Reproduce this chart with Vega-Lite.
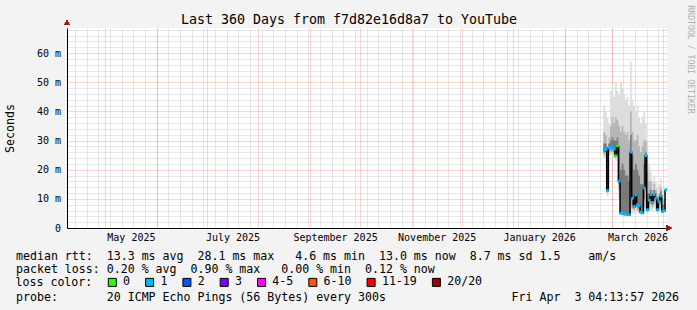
{
  "$schema": "https://vega.github.io/schema/vega-lite/v6.json",
  "width": 600,
  "height": 200,
  "autosize": {"type": "none"},
  "padding": {"left": 67, "top": 28, "right": 30, "bottom": 82},
  "background": "#f3f3f3",
  "config": {
    "view": {"fill": "#ffffff", "stroke": null},
    "axis": {"labelFont": "DejaVu Sans Mono", "titleFont": "DejaVu Sans Mono", "titleFontWeight": "normal", "labelColor": "#000000", "titleColor": "#000000"},
    "legend": {"padding": 0, "offset": 0}
  },
  "data": {
    "values": [
      {"d": "2026-02-24", "m": 26.9, "loss": "1", "lo1": 24, "lo2": 25, "lo3": 26, "hi3": 29, "hi2": 33, "hi1": 42},
      {"d": "2026-02-25", "m": 26.9, "loss": "1", "lo1": 24, "lo2": 25.5, "lo3": 26, "hi3": 29, "hi2": 32, "hi1": 40},
      {"d": "2026-02-26", "m": 12.9, "loss": "1", "lo1": 11, "lo2": 12, "lo3": 12.5, "hi3": 20, "hi2": 28, "hi1": 38},
      {"d": "2026-02-27", "m": 27.5, "loss": "1", "lo1": 25, "lo2": 26, "lo3": 27, "hi3": 29, "hi2": 31, "hi1": 36},
      {"d": "2026-02-28", "m": 27.7, "loss": "1", "lo1": 25, "lo2": 26, "lo3": 27, "hi3": 30, "hi2": 35, "hi1": 47},
      {"d": "2026-03-01", "m": 27.5, "loss": "1", "lo1": 25, "lo2": 26, "lo3": 27, "hi3": 31, "hi2": 38, "hi1": 49},
      {"d": "2026-03-02", "m": 27.0, "loss": "1", "lo1": 24, "lo2": 25, "lo3": 26, "hi3": 30, "hi2": 36, "hi1": 45},
      {"d": "2026-03-03", "m": 24.8, "loss": "0", "lo1": 23, "lo2": 24, "lo3": 24.5, "hi3": 30, "hi2": 38, "hi1": 50},
      {"d": "2026-03-04", "m": 28.1, "loss": "0", "lo1": 25, "lo2": 26, "lo3": 27, "hi3": 31, "hi2": 37, "hi1": 47},
      {"d": "2026-03-05", "m": 16.0, "loss": "1", "lo1": 10, "lo2": 13, "lo3": 15, "hi3": 28, "hi2": 35, "hi1": 46},
      {"d": "2026-03-06", "m": 5.1, "loss": "1", "lo1": 4.5, "lo2": 4.8, "lo3": 5, "hi3": 20, "hi2": 33, "hi1": 50},
      {"d": "2026-03-07", "m": 4.9, "loss": "1", "lo1": 4.3, "lo2": 4.6, "lo3": 4.8, "hi3": 22, "hi2": 35, "hi1": 48},
      {"d": "2026-03-08", "m": 4.8, "loss": "1", "lo1": 4.2, "lo2": 4.5, "lo3": 4.7, "hi3": 20, "hi2": 33, "hi1": 46},
      {"d": "2026-03-09", "m": 4.7, "loss": "1", "lo1": 4.2, "lo2": 4.5, "lo3": 4.6, "hi3": 18, "hi2": 32, "hi1": 44},
      {"d": "2026-03-10", "m": 4.6, "loss": "1", "lo1": 4.1, "lo2": 4.4, "lo3": 4.5, "hi3": 18, "hi2": 33, "hi1": 45},
      {"d": "2026-03-11", "m": 4.5, "loss": "1", "lo1": 4.0, "lo2": 4.3, "lo3": 4.4, "hi3": 16, "hi2": 30, "hi1": 42},
      {"d": "2026-03-12", "m": 26.0, "loss": "1", "lo1": 5, "lo2": 7, "lo3": 12, "hi3": 32, "hi2": 40, "hi1": 57},
      {"d": "2026-03-13", "m": 10.2, "loss": "1", "lo1": 5, "lo2": 6.5, "lo3": 8, "hi3": 25, "hi2": 33, "hi1": 44},
      {"d": "2026-03-14", "m": 7.4, "loss": "1", "lo1": 5, "lo2": 6, "lo3": 6.8, "hi3": 20, "hi2": 30, "hi1": 42},
      {"d": "2026-03-15", "m": 11.3, "loss": "1", "lo1": 5.5, "lo2": 7, "lo3": 9, "hi3": 22, "hi2": 30, "hi1": 40},
      {"d": "2026-03-16", "m": 8.0, "loss": "1", "lo1": 5, "lo2": 6, "lo3": 7, "hi3": 20, "hi2": 32, "hi1": 42},
      {"d": "2026-03-17", "m": 7.6, "loss": "1", "lo1": 5, "lo2": 6, "lo3": 6.8, "hi3": 18, "hi2": 28, "hi1": 38},
      {"d": "2026-03-18", "m": 5.5, "loss": "1", "lo1": 4.5, "lo2": 5, "lo3": 5.2, "hi3": 15, "hi2": 26, "hi1": 36},
      {"d": "2026-03-19", "m": 5.2, "loss": "1", "lo1": 4.5, "lo2": 5, "lo3": 5.1, "hi3": 15, "hi2": 28, "hi1": 38},
      {"d": "2026-03-20", "m": 13.7, "loss": "1", "lo1": 5, "lo2": 7, "lo3": 10, "hi3": 22, "hi2": 30, "hi1": 40},
      {"d": "2026-03-21", "m": 24.8, "loss": "1", "lo1": 6, "lo2": 9, "lo3": 15, "hi3": 26, "hi2": 30, "hi1": 36},
      {"d": "2026-03-22", "m": 6.3, "loss": "1", "lo1": 5, "lo2": 5.5, "lo3": 6, "hi3": 12, "hi2": 20, "hi1": 30},
      {"d": "2026-03-23", "m": 9.5, "loss": "1", "lo1": 5.5, "lo2": 7, "lo3": 8.5, "hi3": 12, "hi2": 16, "hi1": 22},
      {"d": "2026-03-24", "m": 11.4, "loss": "1", "lo1": 6, "lo2": 8, "lo3": 10, "hi3": 13, "hi2": 16, "hi1": 20},
      {"d": "2026-03-25", "m": 8.8, "loss": "1", "lo1": 6, "lo2": 7, "lo3": 8, "hi3": 11, "hi2": 13, "hi1": 16},
      {"d": "2026-03-26", "m": 11.4, "loss": "1", "lo1": 7, "lo2": 9, "lo3": 10.5, "hi3": 13, "hi2": 15, "hi1": 18},
      {"d": "2026-03-27", "m": 10.2, "loss": "1", "lo1": 6, "lo2": 8, "lo3": 9.5, "hi3": 12, "hi2": 13, "hi1": 16},
      {"d": "2026-03-28", "m": 6.3, "loss": "1", "lo1": 5, "lo2": 5.5, "lo3": 6, "hi3": 9, "hi2": 11, "hi1": 14},
      {"d": "2026-03-29", "m": 9.0, "loss": "1", "lo1": 5.5, "lo2": 7, "lo3": 8.5, "hi3": 10.5, "hi2": 12, "hi1": 15},
      {"d": "2026-03-30", "m": 11.0, "loss": "1", "lo1": 6, "lo2": 8, "lo3": 10, "hi3": 12.5, "hi2": 14, "hi1": 17},
      {"d": "2026-03-31", "m": 5.7, "loss": "1", "lo1": 5, "lo2": 5.3, "lo3": 5.5, "hi3": 8, "hi2": 10, "hi1": 13},
      {"d": "2026-04-01", "m": 6.0, "loss": "1", "lo1": 5, "lo2": 5.5, "lo3": 5.8, "hi3": 8, "hi2": 10, "hi1": 12},
      {"d": "2026-04-02", "m": 13.1, "loss": "1", "lo1": 6, "lo2": 9, "lo3": 12, "hi3": 13.8, "hi2": 14.5, "hi1": 16}
    ]
  },
  "resolve": {"axis": {"x": "independent", "y": "independent"}},
  "layer": [
    {
      "mark": {"type": "area", "interpolate": "step-after", "color": "#dddddd", "opacity": 1},
      "encoding": {
        "x": {
          "field": "d", "type": "temporal",
          "scale": {"type": "utc", "domain": [{"year": 2025, "month": 4, "date": 8, "hours": 4, "minutes": 13, "seconds": 57, "utc": true}, {"year": 2026, "month": 4, "date": 3, "hours": 4, "minutes": 13, "seconds": 57, "utc": true}]},
          "axis": {"orient": "top", "grid": true, "gridColor": "#c4c4c4", "gridDash": [1, 1], "gridOpacity": 0.8, "labels": false, "ticks": false, "domain": false, "tickCount": {"interval": "week", "step": 1},
            "title": "Last 360 Days from f7d82e16d8a7 to YouTube", "titleFontSize": 13.3, "titleX": 281.5, "titleY": -9, "titleAlign": "center", "titleBaseline": "middle", "titleAnchor": null}
        },
        "y": {
          "field": "hi1", "type": "quantitative",
          "scale": {"domain": [0, 68.6], "nice": false, "zero": true},
          "axis": {"orient": "right", "grid": true, "gridColor": "#c4c4c4", "gridDash": [1, 1], "gridOpacity": 0.8, "labels": false, "ticks": false, "domain": false,
            "values": [2, 4, 6, 8, 12, 14, 16, 18, 22, 24, 26, 28, 32, 34, 36, 38, 42, 44, 46, 48, 52, 54, 56, 58, 62, 64, 66, 68],
            "title": "RRDTOOL / TOBI OETIKER", "titleAngle": 90, "titleFontSize": 8.2, "titleColor": "#b0b0b0", "titleX": 22, "titleY": 31, "titleAlign": "center", "titleBaseline": "middle"}
        },
        "y2": {"field": "lo1"}
      }
    },
    {
      "mark": {"type": "area", "interpolate": "step-after", "color": "#b6b6b6", "opacity": 1},
      "encoding": {
        "x": {"field": "d", "type": "temporal",
          "axis": {"orient": "bottom", "grid": true, "gridColor": "#ff0000", "gridOpacity": 0.35, "gridDash": [1, 1], "labels": false, "ticks": false, "domain": false,
            "values": [
              {"year": 2025, "month": 5, "date": 1, "utc": true}, {"year": 2025, "month": 6, "date": 1, "utc": true}, {"year": 2025, "month": 7, "date": 1, "utc": true},
              {"year": 2025, "month": 8, "date": 1, "utc": true}, {"year": 2025, "month": 9, "date": 1, "utc": true}, {"year": 2025, "month": 10, "date": 1, "utc": true},
              {"year": 2025, "month": 11, "date": 1, "utc": true}, {"year": 2025, "month": 12, "date": 1, "utc": true}, {"year": 2026, "month": 1, "date": 1, "utc": true},
              {"year": 2026, "month": 2, "date": 1, "utc": true}, {"year": 2026, "month": 3, "date": 1, "utc": true}, {"year": 2026, "month": 4, "date": 1, "utc": true}
            ],
            "title": "probe:\u00a0\u00a0\u00a0\u00a0\u00a0\u00a0\u00a020\u00a0ICMP\u00a0Echo\u00a0Pings\u00a0(56\u00a0Bytes)\u00a0every\u00a0300s\u00a0\u00a0\u00a0\u00a0\u00a0\u00a0\u00a0\u00a0\u00a0\u00a0\u00a0\u00a0\u00a0\u00a0\u00a0\u00a0\u00a0\u00a0Fri\u00a0Apr\u00a0\u00a03\u00a004:13:57\u00a02026",
            "titleFontSize": 11.6, "titleX": -51.5, "titleY": 72.1, "titleAlign": "left", "titleBaseline": "alphabetic", "titleAnchor": null}},
        "y": {"field": "hi2", "type": "quantitative",
          "axis": {"orient": "left", "grid": true, "gridColor": "#ff0000", "gridOpacity": 0.35, "gridDash": [1, 1], "labels": false, "ticks": false, "domain": false, "title": null, "values": [10, 20, 30, 40, 50, 60]}},
        "y2": {"field": "lo2"}
      }
    },
    {
      "mark": {"type": "area", "interpolate": "step-after", "color": "#7a7a7a", "opacity": 1},
      "encoding": {
        "x": {"field": "d", "type": "temporal",
          "axis": {"orient": "bottom", "grid": false, "ticks": false, "tickSize": 0, "domain": true, "domainColor": "#000000", "domainWidth": 1,
            "labelFontSize": 10, "labelBaseline": "middle", "labelPadding": 9.3, "labelAlign": "center",
            "labelExpr": "utcFormat(datum.value, '%B %Y')",
            "values": [
              {"year": 2025, "month": 5, "date": 16, "hours": 12, "utc": true}, {"year": 2025, "month": 7, "date": 16, "hours": 12, "utc": true},
              {"year": 2025, "month": 9, "date": 16, "utc": true}, {"year": 2025, "month": 11, "date": 16, "utc": true},
              {"year": 2026, "month": 1, "date": 16, "hours": 12, "utc": true}, {"year": 2026, "month": 3, "date": 16, "hours": 12, "utc": true}
            ],
            "title": [
              "median rtt:\u00a0\u00a013.3\u00a0ms\u00a0avg\u00a0\u00a028.1\u00a0ms\u00a0max\u00a0\u00a0\u00a04.6\u00a0ms\u00a0min\u00a0\u00a013.0\u00a0ms\u00a0now\u00a0\u00a08.7\u00a0ms\u00a0sd\u00a01.5\u00a0\u00a0\u00a0\u00a0am/s",
              "packet loss:\u00a00.20\u00a0%\u00a0avg\u00a0\u00a00.90\u00a0%\u00a0max\u00a0\u00a0\u00a00.00\u00a0%\u00a0min\u00a0\u00a00.12\u00a0%\u00a0now"
            ],
            "titleFontSize": 11.6, "titleLineHeight": 13.7, "titleX": -51.5, "titleY": 31, "titleAlign": "left", "titleBaseline": "alphabetic", "titleAnchor": null}},
        "y": {"field": "hi3", "type": "quantitative",
          "axis": {"orient": "left", "grid": false, "ticks": false, "tickSize": 0, "domain": true, "domainColor": "#000000", "domainWidth": 1,
            "values": [0, 10, 20, 30, 40, 50, 60], "labelFontSize": 10, "labelPadding": 6.5, "labelBaseline": "middle",
            "labelExpr": "datum.value == 0 ? '0\u00a0\u00a0' : datum.value + '\u00a0m'",
            "title": "Seconds", "titleFontSize": 11.6, "titleAngle": 270, "titleX": -56.3, "titleY": 100, "titleAlign": "center", "titleBaseline": "middle", "titleAnchor": null}},
        "y2": {"field": "lo3"}
      }
    },
    {
      "mark": {"type": "line", "interpolate": "step-after", "color": "#000000", "strokeWidth": 1.5},
      "encoding": {
        "x": {"field": "d", "type": "temporal", "axis": null},
        "y": {"field": "m", "type": "quantitative", "axis": null}
      }
    },
    {
      "mark": {"type": "point", "shape": "square", "filled": true, "size": 7, "opacity": 1, "xOffset": 0.8},
      "encoding": {
        "x": {"field": "d", "type": "temporal", "axis": null},
        "y": {"field": "m", "type": "quantitative", "axis": null},
        "color": {
          "field": "loss", "type": "nominal",
          "scale": {"domain": ["0", "1", "2", "3", "4-5", "6-10", "11-19", "20/20"], "range": ["#26ff00", "#00b8ff", "#0059ff", "#7e00ff", "#ff00ff", "#ff5500", "#ff0000", "#a10000"]},
          "legend": {"orient": "none", "legendX": -51.5, "legendY": 248.5, "direction": "horizontal", "title": "loss color:", "titleOrient": "left",
            "titleFont": "DejaVu Sans Mono", "titleFontSize": 11.6, "titleFontWeight": "normal", "titleColor": "#000000", "titlePadding": 14, "titleBaseline": "middle",
            "labelFont": "DejaVu Sans Mono", "labelFontSize": 11.6, "labelColor": "#000000", "labelOffset": 5,
            "symbolType": "square", "symbolSize": 64, "symbolStrokeColor": "#000000", "symbolStrokeWidth": 1, "symbolOpacity": 1, "columnPadding": 12.3}
        }
      }
    },
    {
      "mark": {"type": "point", "shape": "triangle-right", "filled": true, "color": "#a01818", "size": 30, "opacity": 1, "clip": false},
      "encoding": {
        "x": {"datum": {"year": 2026, "month": 4, "date": 4, "hours": 8, "utc": true}, "type": "temporal", "axis": null},
        "y": {"datum": 0, "type": "quantitative", "axis": null}
      }
    },
    {
      "mark": {"type": "point", "shape": "triangle-up", "filled": true, "color": "#a01818", "size": 30, "opacity": 1, "clip": false},
      "encoding": {
        "x": {"datum": {"year": 2025, "month": 4, "date": 8, "hours": 4, "minutes": 13, "seconds": 57, "utc": true}, "type": "temporal", "axis": null},
        "y": {"datum": 70.4, "type": "quantitative", "axis": null}
      }
    }
  ]
}
